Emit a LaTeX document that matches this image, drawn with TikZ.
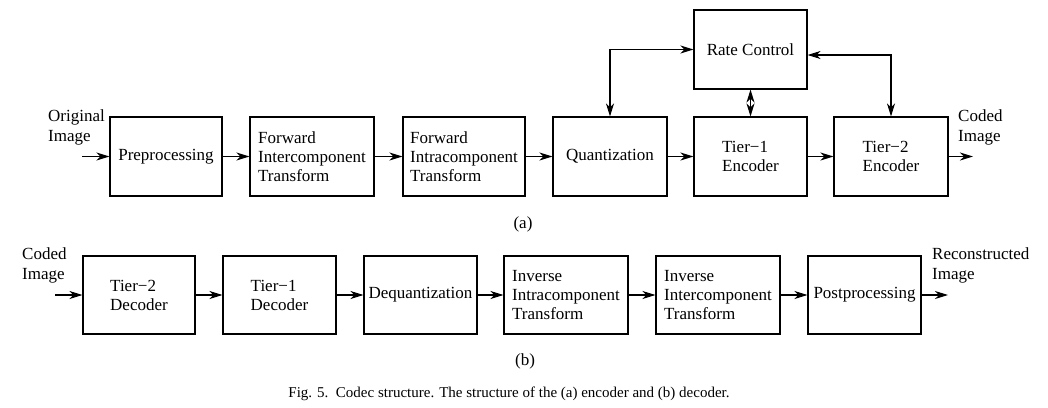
\documentclass[tikz,border=0pt]{standalone}
\usepackage{fontspec}
\setmainfont{Liberation Serif}
\usetikzlibrary{arrows.meta}
\begin{document}
\begin{tikzpicture}[x=1pt,y=-1pt,
  box/.style={draw, line width=1.1pt, minimum height=79pt, align=left, inner sep=0pt, font=\fontsize{17}{19}\selectfont},
  lbl/.style={align=left, inner sep=0pt, font=\fontsize{17}{20}\selectfont},
  tip/.tip={Stealth[length=13pt,width=8pt,inset=4pt]},
  arr/.style={line width=1.1pt, -tip},
  darr/.style={line width=1.1pt, tip-tip},
]
\useasboundingbox (0,0) rectangle (1048,407);

% ---------- (a) encoder ----------
\node[box, minimum width=112pt] (pre)   at (166,156.5) {Preprocessing};
\node[box, minimum width=124pt] (finter) at (312,156.5) {Forward\\Intercomponent\\Transform};
\node[box, minimum width=122pt] (fintra) at (464,156.5) {Forward\\Intracomponent\\Transform};
\node[box, minimum width=114pt] (quant) at (610,156.5) {Quantization};
\node[box, minimum width=113pt] (t1e)   at (750.5,156.5) {Tier−1\\Encoder};
\node[box, minimum width=114pt] (t2e)   at (891,156.5) {Tier−2\\Encoder};
\node[box, minimum width=113pt] (rc)    at (750.5,49.5) {Rate Control};

\node[lbl, anchor=west] (origlbl) at (48,127) {Original\\Image};
\node[lbl, anchor=west] (codedlbl) at (958,127) {Coded\\Image};
\coordinate (inA) at (82,156.5);
\coordinate (outA) at (973,156.5);

\draw[arr] (inA) -- (pre.west);
\draw[arr] (pre) -- (finter);
\draw[arr] (finter) -- (fintra);
\draw[arr] (fintra) -- (quant);
\draw[arr] (quant) -- (t1e);
\draw[arr] (t1e) -- (t2e);
\draw[arr] (t2e.east) -- (outA);

\draw[darr] (quant.north) |- (rc.west);
\draw[darr] (rc.south) -- (t1e.north);
\draw[darr] ([yshift=-5.5pt]rc.east) -| (t2e.north);

\node[lbl] (alabel) at (523,224) {(a)};

% ---------- (b) decoder ----------
\begin{scope}[box/.append style={minimum height=78pt}]
\node[box, minimum width=112pt] (t2d)   at (139,295) {Tier−2\\Decoder};
\node[box, minimum width=113pt] (t1d)   at (279.5,295) {Tier−1\\Decoder};
\node[box, minimum width=113pt] (deq)   at (420.5,295) {Dequantization};
\node[box, minimum width=124pt] (iintra) at (566,295) {Inverse\\Intracomponent\\Transform};
\node[box, minimum width=124pt] (iinter) at (718,295) {Inverse\\Intercomponent\\Transform};
\node[box, minimum width=113pt] (post)  at (864.5,295) {Postprocessing};
\end{scope}

\node[lbl, anchor=west] (codedlblb) at (22,265.5) {Coded\\Image};
\node[lbl, anchor=west] (reclbl) at (932,265.5) {Reconstructed\\Image};
\coordinate (inB) at (55,295);
\coordinate (outB) at (948,295);

\draw[arr] (inB) -- (t2d.west);
\draw[arr] (t2d) -- (t1d);
\draw[arr] (t1d) -- (deq);
\draw[arr] (deq) -- (iintra);
\draw[arr] (iintra) -- (iinter);
\draw[arr] (iinter) -- (post);
\draw[arr] (post.east) -- (outB);

\node[lbl] (blabel) at (525,361) {(b)};

% ---------- caption ----------
\node[inner sep=0pt, font=\fontsize{15}{18}\selectfont] (caption) at (509,394)
  {Fig. 5.\ \ Codec structure. The structure of the (a) encoder and (b) decoder.};
\end{tikzpicture}
\end{document}
